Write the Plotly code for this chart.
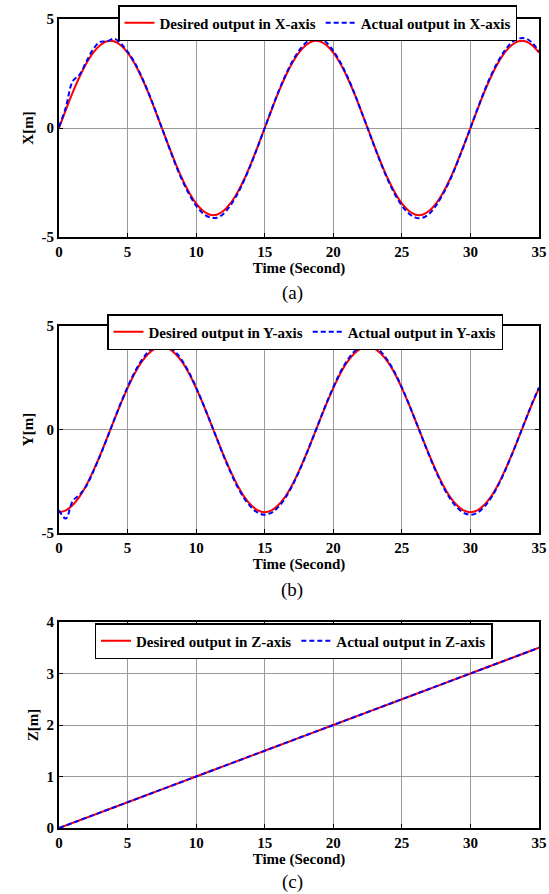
import plotly.graph_objects as go

# ---------------- data ----------------
t = [0, 0.5, 1, 1.5, 2, 2.5, 3, 3.5, 4, 4.5, 5, 5.5, 6, 6.5, 7, 7.5, 8, 8.5, 9, 9.5,
     10, 10.5, 11, 11.5, 12, 12.5, 13, 13.5, 14, 14.5, 15, 15.5, 16, 16.5, 17, 17.5,
     18, 18.5, 19, 19.5, 20, 20.5, 21, 21.5, 22, 22.5, 23, 23.5, 24, 24.5, 25, 25.5,
     26, 26.5, 27, 27.5, 28, 28.5, 29, 29.5, 30, 30.5, 31, 31.5, 32, 32.5, 33, 33.5,
     34, 34.5, 35]

x_desired = [0, 0.83, 1.63, 2.35, 2.97, 3.46, 3.80, 3.98, 3.98, 3.80, 3.46, 2.97, 2.35, 1.63, 0.83,
             0, -0.83, -1.63, -2.35, -2.97, -3.46, -3.80, -3.98, -3.98, -3.80, -3.46, -2.97, -2.35, -1.63, -0.83,
             0, 0.83, 1.63, 2.35, 2.97, 3.46, 3.80, 3.98, 3.98, 3.80, 3.46, 2.97, 2.35, 1.63, 0.83,
             0, -0.83, -1.63, -2.35, -2.97, -3.46, -3.80, -3.98, -3.98, -3.80, -3.46, -2.97, -2.35, -1.63, -0.83,
             0, 0.83, 1.63, 2.35, 2.97, 3.46, 3.80, 3.98, 3.98, 3.80, 3.46]

x_actual = [0.05, 0.95, 2.15, 2.45, 3.05, 3.62, 3.95, 3.97, 4.10, 3.88, 3.50, 3.02, 2.38, 1.66, 0.85,
            0.0, -0.84, -1.68, -2.42, -3.05, -3.56, -3.92, -4.10, -4.12, -3.93, -3.55, -3.04, -2.40, -1.66, -0.84,
            0.0, 0.85, 1.67, 2.40, 3.04, 3.55, 3.91, 4.10, 4.11, 3.92, 3.54, 3.03, 2.40, 1.66, 0.84,
            0.0, -0.85, -1.67, -2.41, -3.05, -3.56, -3.92, -4.11, -4.12, -3.93, -3.55, -3.03, -2.40, -1.65, -0.84,
            0.0, 0.85, 1.67, 2.41, 3.04, 3.55, 3.92, 4.10, 4.11, 3.91, 3.52]

y_desired = [-4, -3.91, -3.65, -3.24, -2.68, -2, -1.24, -0.42, 0.42, 1.24, 2, 2.68, 3.24, 3.65, 3.91,
             4, 3.91, 3.65, 3.24, 2.68, 2, 1.24, 0.42, -0.42, -1.24, -2, -2.68, -3.24, -3.65, -3.91,
             -4, -3.91, -3.65, -3.24, -2.68, -2, -1.24, -0.42, 0.42, 1.24, 2, 2.68, 3.24, 3.65, 3.91,
             4, 3.91, 3.65, 3.24, 2.68, 2, 1.24, 0.42, -0.42, -1.24, -2, -2.68, -3.24, -3.65, -3.91,
             -4, -3.91, -3.65, -3.24, -2.68, -2, -1.24, -0.42, 0.42, 1.24, 2]

y_actual = [-3.9, -4.3, -3.45, -3.15, -2.72, -2.02, -1.26, -0.43, 0.43, 1.27, 2.05, 2.75, 3.32, 3.75, 4.02,
            4.12, 4.02, 3.74, 3.31, 2.73, 2.03, 1.25, 0.42, -0.43, -1.27, -2.05, -2.75, -3.32, -3.75, -4.02,
            -4.12, -4.02, -3.74, -3.31, -2.73, -2.03, -1.25, -0.42, 0.43, 1.27, 2.05, 2.75, 3.32, 3.75, 4.02,
            4.12, 4.02, 3.74, 3.31, 2.73, 2.03, 1.25, 0.42, -0.43, -1.27, -2.05, -2.75, -3.32, -3.75, -4.02,
            -4.12, -4.02, -3.74, -3.31, -2.73, -2.03, -1.25, -0.42, 0.43, 1.27, 2.03]

t_z = [0, 5, 10, 15, 20, 25, 30, 35]
z_desired = [0, 0.5, 1.0, 1.5, 2.0, 2.5, 3.0, 3.5]
z_actual = [0, 0.5, 1.0, 1.5, 2.0, 2.5, 3.0, 3.5]

x_ticks = [0, 5, 10, 15, 20, 25, 30, 35]
xy_ticks = [-5, 0, 5]
xy_tick_labels = ["-5", "0", "5"]
z_ticks = [0, 1, 2, 3, 4]
z_tick_labels = ["0", "1", "2", "3", "4"]

panels = [
    ("X", t, x_desired, t, x_actual, xy_ticks, xy_tick_labels, [-5, 5], "X[m]", "(a)"),
    ("Y", t, y_desired, t, y_actual, xy_ticks, xy_tick_labels, [-5, 5], "Y[m]", "(b)"),
    ("Z", t_z, z_desired, t_z, z_actual, z_ticks, z_tick_labels, [0, 4], "Z[m]", "(c)"),
]

# ---------------- layout ----------------
W, H = 549, 894
SERIF = "Liberation Serif, Times New Roman, Times, serif"
x_dom = [59 / W, 539 / W]
y_px = [(19, 237), (326, 533), (622, 828)]          # top, bottom of each plot area
legend_pos = [(317.5, 5), (305, 314), (293.5, 623)]  # legend center x, top y
label_y = [293, 590, 882]

def font(size, bold=True):
    return dict(family=SERIF, size=size, color="black", weight="bold" if bold else "normal")

fig = go.Figure()
axis_common = dict(
    showline=True, linecolor="black", linewidth=2, mirror="ticks",
    ticks="inside", ticklen=4, tickwidth=1, tickcolor="black",
    showgrid=True, gridcolor="#9a9a9a", gridwidth=1, zeroline=False,
    automargin=False, tickfont=font(15),
)

for i, (name, td, vd, ta, va, yt, ytl, yr, ytitle, lab) in enumerate(panels):
    n = "" if i == 0 else str(i + 1)
    leg = "legend" if i == 0 else f"legend{i + 1}"
    fig.add_trace(go.Scatter(
        x=td, y=vd, mode="lines", line=dict(color="red", width=2, shape="spline"),
        name=f"Desired output in {name}-axis", xaxis=f"x{n}", yaxis=f"y{n}", legend=leg))
    fig.add_trace(go.Scatter(
        x=ta, y=va, mode="lines", line=dict(color="blue", width=2, dash="5px,3px", shape="spline"),
        name=f"Actual output in {name}-axis", xaxis=f"x{n}", yaxis=f"y{n}", legend=leg))

    top, bot = y_px[i]
    fig.layout[f"xaxis{n}"] = dict(
        axis_common, domain=x_dom, range=[0, 35], tickvals=x_ticks, anchor=f"y{n}",
        title=dict(text="Time (Second)", standoff=0, font=font(15)))
    fig.layout[f"yaxis{n}"] = dict(
        axis_common, domain=[1 - bot / H, 1 - top / H], range=yr, tickvals=yt, ticktext=ytl,
        anchor=f"x{n}", title=dict(text=ytitle, standoff=4, font=font(15)))

    cx, ly = legend_pos[i]
    fig.layout[leg] = dict(
        x=cx / W, y=1 - ly / H, xanchor="center", yanchor="top", orientation="h",
        bgcolor="white", bordercolor="black", borderwidth=1.5,
        font=font(15), itemwidth=30, tracegroupgap=0)

    fig.add_annotation(text=lab, x=292 / W, y=1 - label_y[i] / H,
                       xref="paper", yref="paper", xanchor="center", yanchor="middle",
                       showarrow=False, font=font(19, bold=False))

fig.update_layout(
    width=W, height=H, margin=dict(l=0, r=0, t=0, b=0, autoexpand=False),
    paper_bgcolor="white", plot_bgcolor="white", showlegend=True,
)

fig.write_html("out.html", config={"displayModeBar": False},
               post_script="document.body.style.margin='0';document.body.style.overflow='hidden';")
